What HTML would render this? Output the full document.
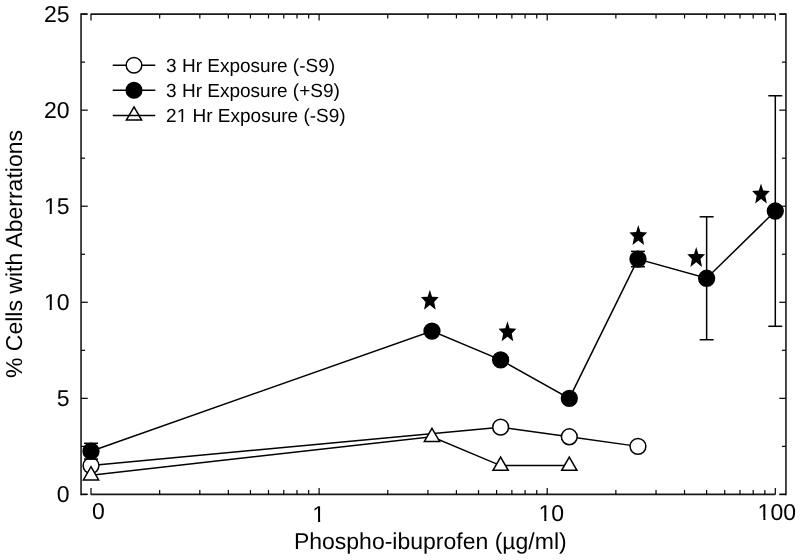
<!DOCTYPE html>
<html><head><meta charset="utf-8"><style>
html,body{margin:0;padding:0;background:#fff;}
svg{display:block;will-change:transform;}
text{text-rendering:geometricPrecision;}
.t{font-family:"Liberation Sans",sans-serif;font-size:23px;fill:#000;}
.tt{font-family:"Liberation Sans",sans-serif;font-size:23px;fill:#000;}
.lt{font-family:"Liberation Sans",sans-serif;font-size:19px;fill:#000;}
</style></head><body>
<svg width="800" height="560" viewBox="0 0 800 560">
<line x1="81.05" y1="13.30" x2="81.05" y2="495.20" stroke="#1a1a1a" stroke-width="1.6"/>
<line x1="785.95" y1="13.30" x2="785.95" y2="495.20" stroke="#1a1a1a" stroke-width="1.6"/>
<line x1="81.05" y1="14.1" x2="87.3" y2="14.1" stroke="#1a1a1a" stroke-width="1.6"/>
<line x1="90.7" y1="14.1" x2="775.3" y2="14.1" stroke="#1a1a1a" stroke-width="1.6"/>
<line x1="779.5" y1="14.1" x2="785.95" y2="14.1" stroke="#1a1a1a" stroke-width="1.6"/>
<line x1="81.05" y1="494.4" x2="87.3" y2="494.4" stroke="#1a1a1a" stroke-width="1.6"/>
<line x1="90.7" y1="494.4" x2="775.3" y2="494.4" stroke="#1a1a1a" stroke-width="1.6"/>
<line x1="779.5" y1="494.4" x2="785.95" y2="494.4" stroke="#1a1a1a" stroke-width="1.6"/>
<line x1="91.00" y1="494.4" x2="91.00" y2="487.90" stroke="#000" stroke-width="1.2"/>
<line x1="91.00" y1="14.1" x2="91.00" y2="20.60" stroke="#000" stroke-width="1.2"/>
<line x1="159.66" y1="494.4" x2="159.66" y2="490.10" stroke="#000" stroke-width="1.2"/>
<line x1="159.66" y1="14.1" x2="159.66" y2="18.40" stroke="#000" stroke-width="1.2"/>
<line x1="199.83" y1="494.4" x2="199.83" y2="490.10" stroke="#000" stroke-width="1.2"/>
<line x1="199.83" y1="14.1" x2="199.83" y2="18.40" stroke="#000" stroke-width="1.2"/>
<line x1="228.33" y1="494.4" x2="228.33" y2="490.10" stroke="#000" stroke-width="1.2"/>
<line x1="228.33" y1="14.1" x2="228.33" y2="18.40" stroke="#000" stroke-width="1.2"/>
<line x1="250.44" y1="494.4" x2="250.44" y2="490.10" stroke="#000" stroke-width="1.2"/>
<line x1="250.44" y1="14.1" x2="250.44" y2="18.40" stroke="#000" stroke-width="1.2"/>
<line x1="268.50" y1="494.4" x2="268.50" y2="490.10" stroke="#000" stroke-width="1.2"/>
<line x1="268.50" y1="14.1" x2="268.50" y2="18.40" stroke="#000" stroke-width="1.2"/>
<line x1="283.77" y1="494.4" x2="283.77" y2="490.10" stroke="#000" stroke-width="1.2"/>
<line x1="283.77" y1="14.1" x2="283.77" y2="18.40" stroke="#000" stroke-width="1.2"/>
<line x1="296.99" y1="494.4" x2="296.99" y2="490.10" stroke="#000" stroke-width="1.2"/>
<line x1="296.99" y1="14.1" x2="296.99" y2="18.40" stroke="#000" stroke-width="1.2"/>
<line x1="308.66" y1="494.4" x2="308.66" y2="490.10" stroke="#000" stroke-width="1.2"/>
<line x1="308.66" y1="14.1" x2="308.66" y2="18.40" stroke="#000" stroke-width="1.2"/>
<line x1="319.10" y1="494.4" x2="319.10" y2="487.90" stroke="#000" stroke-width="1.2"/>
<line x1="319.10" y1="14.1" x2="319.10" y2="20.60" stroke="#000" stroke-width="1.2"/>
<line x1="387.76" y1="494.4" x2="387.76" y2="490.10" stroke="#000" stroke-width="1.2"/>
<line x1="387.76" y1="14.1" x2="387.76" y2="18.40" stroke="#000" stroke-width="1.2"/>
<line x1="427.93" y1="494.4" x2="427.93" y2="490.10" stroke="#000" stroke-width="1.2"/>
<line x1="427.93" y1="14.1" x2="427.93" y2="18.40" stroke="#000" stroke-width="1.2"/>
<line x1="456.43" y1="494.4" x2="456.43" y2="490.10" stroke="#000" stroke-width="1.2"/>
<line x1="456.43" y1="14.1" x2="456.43" y2="18.40" stroke="#000" stroke-width="1.2"/>
<line x1="478.54" y1="494.4" x2="478.54" y2="490.10" stroke="#000" stroke-width="1.2"/>
<line x1="478.54" y1="14.1" x2="478.54" y2="18.40" stroke="#000" stroke-width="1.2"/>
<line x1="496.60" y1="494.4" x2="496.60" y2="490.10" stroke="#000" stroke-width="1.2"/>
<line x1="496.60" y1="14.1" x2="496.60" y2="18.40" stroke="#000" stroke-width="1.2"/>
<line x1="511.87" y1="494.4" x2="511.87" y2="490.10" stroke="#000" stroke-width="1.2"/>
<line x1="511.87" y1="14.1" x2="511.87" y2="18.40" stroke="#000" stroke-width="1.2"/>
<line x1="525.09" y1="494.4" x2="525.09" y2="490.10" stroke="#000" stroke-width="1.2"/>
<line x1="525.09" y1="14.1" x2="525.09" y2="18.40" stroke="#000" stroke-width="1.2"/>
<line x1="536.76" y1="494.4" x2="536.76" y2="490.10" stroke="#000" stroke-width="1.2"/>
<line x1="536.76" y1="14.1" x2="536.76" y2="18.40" stroke="#000" stroke-width="1.2"/>
<line x1="547.20" y1="494.4" x2="547.20" y2="487.90" stroke="#000" stroke-width="1.2"/>
<line x1="547.20" y1="14.1" x2="547.20" y2="20.60" stroke="#000" stroke-width="1.2"/>
<line x1="615.86" y1="494.4" x2="615.86" y2="490.10" stroke="#000" stroke-width="1.2"/>
<line x1="615.86" y1="14.1" x2="615.86" y2="18.40" stroke="#000" stroke-width="1.2"/>
<line x1="656.03" y1="494.4" x2="656.03" y2="490.10" stroke="#000" stroke-width="1.2"/>
<line x1="656.03" y1="14.1" x2="656.03" y2="18.40" stroke="#000" stroke-width="1.2"/>
<line x1="684.53" y1="494.4" x2="684.53" y2="490.10" stroke="#000" stroke-width="1.2"/>
<line x1="684.53" y1="14.1" x2="684.53" y2="18.40" stroke="#000" stroke-width="1.2"/>
<line x1="706.64" y1="494.4" x2="706.64" y2="490.10" stroke="#000" stroke-width="1.2"/>
<line x1="706.64" y1="14.1" x2="706.64" y2="18.40" stroke="#000" stroke-width="1.2"/>
<line x1="724.70" y1="494.4" x2="724.70" y2="490.10" stroke="#000" stroke-width="1.2"/>
<line x1="724.70" y1="14.1" x2="724.70" y2="18.40" stroke="#000" stroke-width="1.2"/>
<line x1="739.97" y1="494.4" x2="739.97" y2="490.10" stroke="#000" stroke-width="1.2"/>
<line x1="739.97" y1="14.1" x2="739.97" y2="18.40" stroke="#000" stroke-width="1.2"/>
<line x1="753.19" y1="494.4" x2="753.19" y2="490.10" stroke="#000" stroke-width="1.2"/>
<line x1="753.19" y1="14.1" x2="753.19" y2="18.40" stroke="#000" stroke-width="1.2"/>
<line x1="764.86" y1="494.4" x2="764.86" y2="490.10" stroke="#000" stroke-width="1.2"/>
<line x1="764.86" y1="14.1" x2="764.86" y2="18.40" stroke="#000" stroke-width="1.2"/>
<line x1="775.30" y1="494.4" x2="775.30" y2="487.90" stroke="#000" stroke-width="1.2"/>
<line x1="775.30" y1="14.1" x2="775.30" y2="20.60" stroke="#000" stroke-width="1.2"/>
<line x1="81.05" y1="494.40" x2="87.75" y2="494.40" stroke="#000" stroke-width="1.2"/>
<line x1="785.95" y1="494.40" x2="779.25" y2="494.40" stroke="#000" stroke-width="1.2"/>
<line x1="81.05" y1="446.37" x2="85.05" y2="446.37" stroke="#000" stroke-width="1.2"/>
<line x1="785.95" y1="446.37" x2="781.95" y2="446.37" stroke="#000" stroke-width="1.2"/>
<line x1="81.05" y1="398.34" x2="87.75" y2="398.34" stroke="#000" stroke-width="1.2"/>
<line x1="785.95" y1="398.34" x2="779.25" y2="398.34" stroke="#000" stroke-width="1.2"/>
<line x1="81.05" y1="350.31" x2="85.05" y2="350.31" stroke="#000" stroke-width="1.2"/>
<line x1="785.95" y1="350.31" x2="781.95" y2="350.31" stroke="#000" stroke-width="1.2"/>
<line x1="81.05" y1="302.28" x2="87.75" y2="302.28" stroke="#000" stroke-width="1.2"/>
<line x1="785.95" y1="302.28" x2="779.25" y2="302.28" stroke="#000" stroke-width="1.2"/>
<line x1="81.05" y1="254.25" x2="85.05" y2="254.25" stroke="#000" stroke-width="1.2"/>
<line x1="785.95" y1="254.25" x2="781.95" y2="254.25" stroke="#000" stroke-width="1.2"/>
<line x1="81.05" y1="206.22" x2="87.75" y2="206.22" stroke="#000" stroke-width="1.2"/>
<line x1="785.95" y1="206.22" x2="779.25" y2="206.22" stroke="#000" stroke-width="1.2"/>
<line x1="81.05" y1="158.19" x2="85.05" y2="158.19" stroke="#000" stroke-width="1.2"/>
<line x1="785.95" y1="158.19" x2="781.95" y2="158.19" stroke="#000" stroke-width="1.2"/>
<line x1="81.05" y1="110.16" x2="87.75" y2="110.16" stroke="#000" stroke-width="1.2"/>
<line x1="785.95" y1="110.16" x2="779.25" y2="110.16" stroke="#000" stroke-width="1.2"/>
<line x1="81.05" y1="62.13" x2="85.05" y2="62.13" stroke="#000" stroke-width="1.2"/>
<line x1="785.95" y1="62.13" x2="781.95" y2="62.13" stroke="#000" stroke-width="1.2"/>
<line x1="81.05" y1="14.10" x2="87.75" y2="14.10" stroke="#000" stroke-width="1.2"/>
<line x1="785.95" y1="14.10" x2="779.25" y2="14.10" stroke="#000" stroke-width="1.2"/>
<text x="69.5" y="502" text-anchor="end" class="t">0</text>
<text x="69.5" y="406" text-anchor="end" class="t">5</text>
<text x="69.5" y="310" text-anchor="end" class="t">10</text>
<text x="69.5" y="214" text-anchor="end" class="t">15</text>
<text x="69.5" y="118" text-anchor="end" class="t">20</text>
<text x="69.5" y="22" text-anchor="end" class="t">25</text>
<text x="98.30" y="519.00" text-anchor="middle" class="t">0</text>
<text x="318.70" y="522.00" text-anchor="middle" class="t">1</text>
<text x="551.30" y="521.00" text-anchor="middle" class="t">10</text>
<text x="776.80" y="520.00" text-anchor="middle" class="t">100</text>
<text x="430.3" y="549" text-anchor="middle" class="tt">Phospho-ibuprofen (µg/ml)</text>
<text transform="translate(21.9 254) rotate(-90)" x="0" y="0" text-anchor="middle" class="t">% Cells with Aberrations</text>
<polyline points="91.00,465.58 500.64,427.16 569.31,436.76 637.97,446.37" fill="none" stroke="#000" stroke-width="1.5"/>
<circle cx="91.00" cy="465.58" r="7.9" fill="#fff" stroke="#000" stroke-width="1.5"/>
<circle cx="500.64" cy="427.16" r="7.9" fill="#fff" stroke="#000" stroke-width="1.5"/>
<circle cx="569.31" cy="436.76" r="7.9" fill="#fff" stroke="#000" stroke-width="1.5"/>
<circle cx="637.97" cy="446.37" r="7.9" fill="#fff" stroke="#000" stroke-width="1.5"/>
<polyline points="91.00,451.17 431.98,331.10 500.64,359.92 569.31,398.34 637.97,259.05 706.64,278.26 775.30,211.02" fill="none" stroke="#000" stroke-width="1.5"/>
<line x1="91.00" y1="443.30" x2="91.00" y2="459.05" stroke="#000" stroke-width="1.5"/>
<line x1="84.00" y1="443.30" x2="98.00" y2="443.30" stroke="#000" stroke-width="1.5"/>
<line x1="84.00" y1="459.05" x2="98.00" y2="459.05" stroke="#000" stroke-width="1.5"/>
<line x1="637.97" y1="251.37" x2="637.97" y2="266.74" stroke="#000" stroke-width="1.5"/>
<line x1="630.97" y1="251.37" x2="644.97" y2="251.37" stroke="#000" stroke-width="1.5"/>
<line x1="630.97" y1="266.74" x2="644.97" y2="266.74" stroke="#000" stroke-width="1.5"/>
<line x1="706.64" y1="216.79" x2="706.64" y2="339.74" stroke="#000" stroke-width="1.5"/>
<line x1="699.64" y1="216.79" x2="713.64" y2="216.79" stroke="#000" stroke-width="1.5"/>
<line x1="699.64" y1="339.74" x2="713.64" y2="339.74" stroke="#000" stroke-width="1.5"/>
<line x1="775.30" y1="95.75" x2="775.30" y2="326.29" stroke="#000" stroke-width="1.5"/>
<line x1="768.30" y1="95.75" x2="782.30" y2="95.75" stroke="#000" stroke-width="1.5"/>
<line x1="768.30" y1="326.29" x2="782.30" y2="326.29" stroke="#000" stroke-width="1.5"/>
<circle cx="91.00" cy="451.17" r="7.9" fill="#000" stroke="#000" stroke-width="1.5"/>
<circle cx="431.98" cy="331.10" r="7.9" fill="#000" stroke="#000" stroke-width="1.5"/>
<circle cx="500.64" cy="359.92" r="7.9" fill="#000" stroke="#000" stroke-width="1.5"/>
<circle cx="569.31" cy="398.34" r="7.9" fill="#000" stroke="#000" stroke-width="1.5"/>
<circle cx="637.97" cy="259.05" r="7.9" fill="#000" stroke="#000" stroke-width="1.5"/>
<circle cx="706.64" cy="278.26" r="7.9" fill="#000" stroke="#000" stroke-width="1.5"/>
<circle cx="775.30" cy="211.02" r="7.9" fill="#000" stroke="#000" stroke-width="1.5"/>
<polyline points="91.00,475.19 431.98,436.76 500.64,465.58 569.31,465.58" fill="none" stroke="#000" stroke-width="1.5"/>
<polygon points="91.00,466.69 98.62,479.89 83.38,479.89" fill="#fff" stroke="#000" stroke-width="1.5" stroke-linejoin="miter"/>
<polygon points="431.98,428.26 439.60,441.46 424.35,441.46" fill="#fff" stroke="#000" stroke-width="1.5" stroke-linejoin="miter"/>
<polygon points="500.64,457.08 508.26,470.28 493.02,470.28" fill="#fff" stroke="#000" stroke-width="1.5" stroke-linejoin="miter"/>
<polygon points="569.31,457.08 576.93,470.28 561.68,470.28" fill="#fff" stroke="#000" stroke-width="1.5" stroke-linejoin="miter"/>
<polygon points="429.85,289.70 432.05,296.70 438.75,297.10 434.15,301.90 435.65,309.70 429.85,305.10 424.05,309.70 425.55,301.90 420.95,297.10 427.65,296.70" fill="#000"/>
<polygon points="507.45,321.30 509.65,328.30 516.35,328.70 511.75,333.50 513.25,341.30 507.45,336.70 501.65,341.30 503.15,333.50 498.55,328.70 505.25,328.30" fill="#000"/>
<polygon points="638.30,225.10 640.50,232.10 647.20,232.50 642.60,237.30 644.10,245.10 638.30,240.50 632.50,245.10 634.00,237.30 629.40,232.50 636.10,232.10" fill="#000"/>
<polygon points="696.20,246.90 698.40,253.90 705.10,254.30 700.50,259.10 702.00,266.90 696.20,262.30 690.40,266.90 691.90,259.10 687.30,254.30 694.00,253.90" fill="#000"/>
<polygon points="761.00,183.55 763.20,190.55 769.90,190.95 765.30,195.75 766.80,203.55 761.00,198.95 755.20,203.55 756.70,195.75 752.10,190.95 758.80,190.55" fill="#000"/>
<line x1="112.75" y1="65.25" x2="155.25" y2="65.25" stroke="#000" stroke-width="1.5"/>
<circle cx="134.00" cy="65.25" r="7.8" fill="#fff" stroke="#000" stroke-width="1.5"/>
<text x="166.1" y="72" class="lt">3 Hr Exposure (-S9)</text>
<line x1="112.75" y1="90.25" x2="155.25" y2="90.25" stroke="#000" stroke-width="1.5"/>
<circle cx="134.00" cy="90.25" r="7.8" fill="#000" stroke="#000" stroke-width="1.5"/>
<text x="166.1" y="97" class="lt">3 Hr Exposure (+S9)</text>
<polygon points="134.00,106.90 141.62,120.10 126.38,120.10" fill="#fff" stroke="#000" stroke-width="1.5" stroke-linejoin="miter"/>
<line x1="112.75" y1="115.4" x2="155.25" y2="115.4" stroke="#000" stroke-width="1.5"/>
<text x="166.1" y="122" class="lt">21 Hr Exposure (-S9)</text>
<rect x="44.60" y="307.18" width="5.08" height="3.82" fill="#fff"/>
<rect x="51.77" y="307.18" width="4.73" height="3.82" fill="#fff"/>
<rect x="44.60" y="211.18" width="5.08" height="3.82" fill="#fff"/>
<rect x="51.77" y="211.18" width="4.73" height="3.82" fill="#fff"/>
<rect x="312.98" y="519.18" width="5.08" height="3.82" fill="#fff"/>
<rect x="320.16" y="519.18" width="4.73" height="3.82" fill="#fff"/>
<rect x="539.19" y="518.18" width="5.08" height="3.82" fill="#fff"/>
<rect x="546.36" y="518.18" width="4.73" height="3.82" fill="#fff"/>
<rect x="758.29" y="517.18" width="5.08" height="3.82" fill="#fff"/>
<rect x="765.47" y="517.18" width="4.73" height="3.82" fill="#fff"/>
<rect x="177.22" y="119.48" width="4.19" height="3.52" fill="#fff"/>
<rect x="183.15" y="119.48" width="3.91" height="3.52" fill="#fff"/>
</svg>
</body></html>
